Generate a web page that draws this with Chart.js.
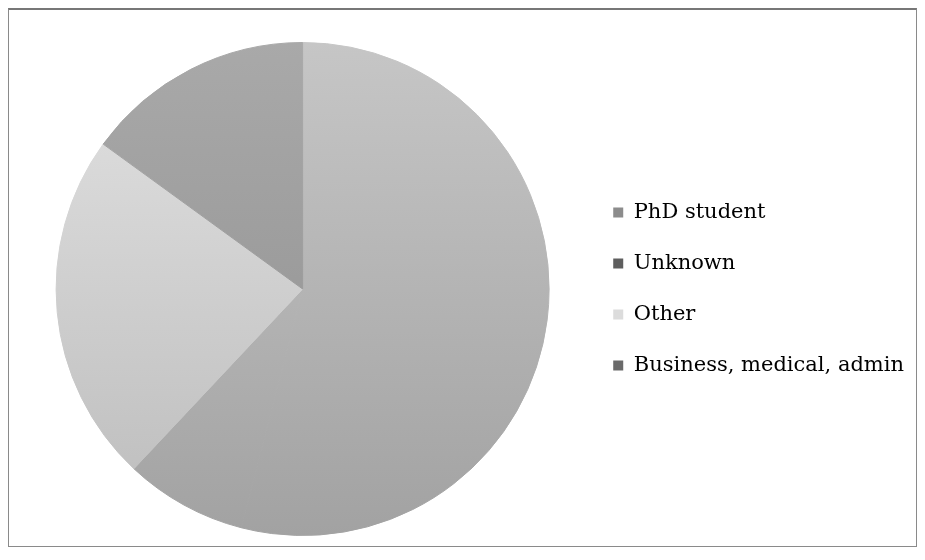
<!DOCTYPE html>
<html>
<head>
<meta charset="utf-8">
<script src="https://cdn.jsdelivr.net/npm/chart.js@4/dist/chart.umd.min.js"></script>
<style>
  body { margin: 0; background: #fff; }
  #wrap { position: relative; width: 925px; height: 560px; }
  #frame { position: absolute; left: 8px; top: 8px; width: 909px; height: 539px;
           border: 1px solid #8a8a8a; border-top: 2px solid #777; box-sizing: border-box; }
  canvas { position: absolute; left: 0; top: 0; }
</style>
</head>
<body>
<div id="wrap">
  <div id="frame"></div>
  <canvas id="job-chart" width="925" height="560"></canvas>
</div>
<script>
var categories = ["PhD student", "Unknown", "Other", "Business, medical, admin"];
var shares = [54, 8, 23, 15];

// top / bottom shade of each slice gradient
var shadeTop = ["#c6c6c6", "#c6c6c6", "#e2e2e2", "#a9a9a9"];
var shadeBottom = ["#a2a2a2", "#a2a2a2", "#bcbcbc", "#8e8e8e"];
var legendColors = ["#8c8c8c", "#5e5e5e", "#dcdcdc", "#6a6a6a"];

function sliceFill(context) {
    var chart = context.chart;
    var area = chart.chartArea;
    if (!area) return shadeTop[context.dataIndex];
    var g = chart.ctx.createLinearGradient(0, area.top, 0, area.bottom);
    g.addColorStop(0, shadeTop[context.dataIndex]);
    g.addColorStop(1, shadeBottom[context.dataIndex]);
    return g;
}

var ctx = document.getElementById('job-chart');

var config = {
    type: 'pie',
    data: {
        labels: categories,
        datasets: [
            {
                data: shares,
                backgroundColor: sliceFill,
                borderColor: sliceFill,
                borderWidth: 1
            }
        ]
    },
    options: {
        responsive: false,
        animation: false,
        layout: {
            padding: { left: 22, right: 11, top: 42, bottom: 24 }
        },
        plugins: {
            tooltip: { enabled: false },
            legend: {
                position: 'right',
                labels: {
                    boxWidth: 10,
                    boxHeight: 10,
                    padding: 30,
                    color: '#333',
                    font: { family: '"DejaVu Serif", serif', size: 21 },
                    generateLabels: function (chart) {
                        return categories.map(function (c, i) {
                            return {
                                text: c,
                                fillStyle: legendColors[i],
                                strokeStyle: legendColors[i],
                                lineWidth: 0,
                                index: i
                            };
                        });
                    }
                }
            }
        }
    }
};

var chart = new Chart(ctx, config);
</script>
</body>
</html>
